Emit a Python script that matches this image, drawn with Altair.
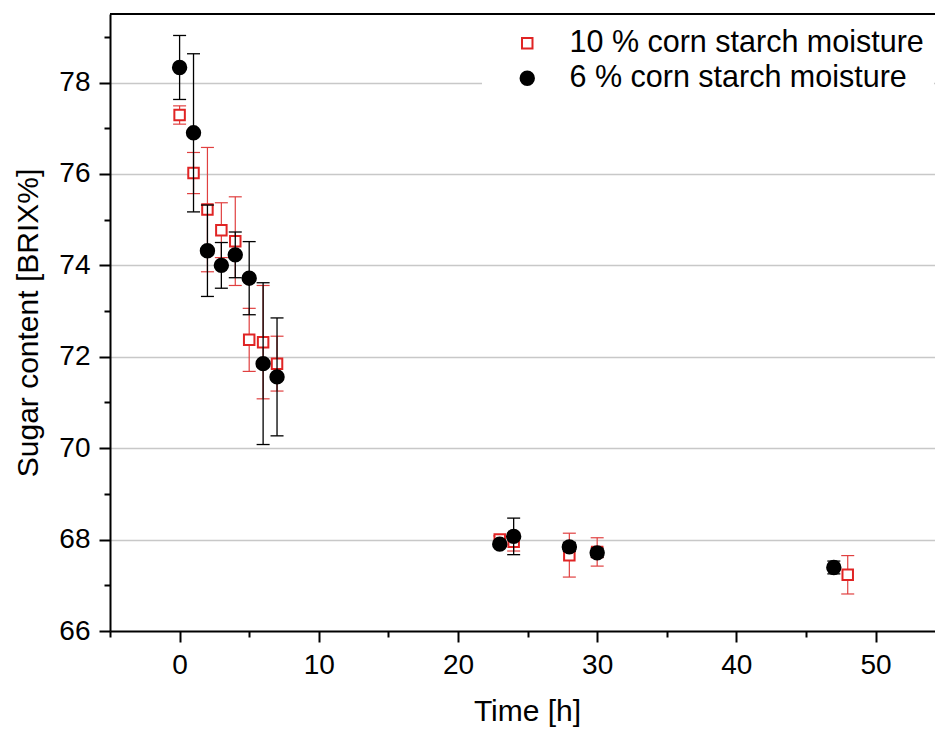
import altair as alt
import pandas as pd

# ---- data ----
series_names = ["10 % corn starch moisture", "6 % corn starch moisture"]

time_10 = [0, 1, 2, 3, 4, 5, 6, 7, 23, 24, 28, 30, 48]
sugar_10 = [77.29, 76.02, 75.22, 74.77, 74.53, 72.37, 72.32, 71.85, 68.00, 67.95, 67.66, 67.73, 67.23]
err_10 = [0.20, 0.45, 1.36, 0.60, 0.97, 0.69, 1.24, 0.60, 0.08, 0.20, 0.48, 0.31, 0.42]

time_6 = [0, 1, 2, 3, 4, 5, 6, 7, 23, 24, 28, 30, 47]
sugar_6 = [78.33, 76.90, 74.32, 74.00, 74.23, 73.72, 71.85, 71.56, 67.90, 68.07, 67.84, 67.71, 67.39]
err_6 = [0.70, 1.73, 1.00, 0.50, 0.50, 0.80, 1.77, 1.29, 0.05, 0.40, 0.10, 0.10, 0.14]

x_ticks = [-5, 0, 5, 10, 15, 20, 25, 30, 35, 40, 45, 50]
y_ticks = [66, 67, 68, 69, 70, 71, 72, 73, 74, 75, 76, 77, 78, 79]

RED = "#e02424"
RED_ERR = "#e04040"
BLACK = "#000000"
FONT = "Liberation Sans"


def frame(name, t, s, e):
    return pd.DataFrame({
        "series": name,
        "time": t,
        "sugar": s,
        "lo": [a - b for a, b in zip(s, e)],
        "hi": [a + b for a, b in zip(s, e)],
    })


df = pd.concat([
    frame(series_names[0], time_10, sugar_10, err_10),
    frame(series_names[1], time_6, sugar_6, err_6),
], ignore_index=True)

xscale = alt.Scale(domain=[-5, 54.27], nice=False, zero=False)
yscale = alt.Scale(domain=[66, 79.5], nice=False, zero=False)

x_axis = alt.Axis(
    values=x_ticks,
    labelExpr="datum.value % 10 === 0 ? datum.label : ''",
    tickSize={"condition": {"test": "datum.value % 10 === 0", "value": 11}, "value": 6},
    grid=False,
    title="Time [h]",
    titleX=417,
    titleY=89,
    titleBaseline="alphabetic",
    labelPadding=9,
)
y_axis = alt.Axis(
    values=y_ticks,
    labelExpr="datum.value % 2 === 0 ? datum.label : ''",
    tickSize={"condition": {"test": "datum.value % 2 === 0", "value": 11}, "value": 6},
    grid=True,
    gridOpacity={"condition": {"test": "datum.value % 2 === 0 && datum.value > 66", "value": 1}, "value": 0},
    title="Sugar content [BRIX%]",
    titleX=-73,
    titleY=308.5,
    titleAngle=270,
    titleBaseline="alphabetic",
    titleAlign="center",
    labelPadding=9,
)

base = alt.Chart(df)
X = alt.X("time:Q", scale=xscale, axis=x_axis)
Y = alt.Y("sugar:Q", scale=yscale, axis=y_axis)


def err_layers(name, color, width):
    sub = base.transform_filter(alt.datum.series == name)
    rule = sub.mark_rule(color=color, strokeWidth=width).encode(
        x=X, y=alt.Y("lo:Q", scale=yscale, axis=y_axis), y2="hi:Q"
    )
    cap_lo = sub.mark_tick(orient="horizontal", size=13, thickness=width, color=color, opacity=1).encode(
        x=X, y=alt.Y("lo:Q", scale=yscale, axis=y_axis)
    )
    cap_hi = sub.mark_tick(orient="horizontal", size=13, thickness=width, color=color, opacity=1).encode(
        x=X, y=alt.Y("hi:Q", scale=yscale, axis=y_axis)
    )
    return [rule, cap_lo, cap_hi]


def point_layer(name):
    sub = base.transform_filter(alt.datum.series == name)
    return sub.mark_point(filled=True, opacity=1, strokeWidth=2).encode(
        x=X,
        y=Y,
        shape=alt.Shape("series:N", title=None,
                        scale=alt.Scale(domain=series_names, range=["square", "circle"])),
        stroke=alt.Stroke("series:N", title=None,
                          scale=alt.Scale(domain=series_names, range=[RED, BLACK])),
        fill=alt.Fill("series:N", title=None,
                      scale=alt.Scale(domain=series_names, range=["white", BLACK])),
        size=alt.Size("series:N", title=None,
                      scale=alt.Scale(domain=series_names, range=[110, 180])),
    )


top_border = base.mark_rule(color=BLACK, strokeWidth=2).encode(y=alt.datum(79.5))

layers = (
    err_layers(series_names[0], RED_ERR, 1.2)
    + [point_layer(series_names[0])]
    + err_layers(series_names[1], BLACK, 1.3)
    + [point_layer(series_names[1])]
    + [top_border]
)

chart = alt.layer(*layers).properties(
    width=825,
    height=617,
    autosize=alt.AutoSizeParams(type="none"),
    padding={"left": 110, "top": 14, "right": 0, "bottom": 98},
    background="white",
).configure_view(
    stroke=None
).configure_axis(
    domainColor=BLACK,
    domainWidth=2,
    tickColor=BLACK,
    tickWidth=2,
    labelFont=FONT,
    labelFontSize=28,
    labelColor=BLACK,
    titleFont=FONT,
    titleFontSize=30,
    titleFontWeight="normal",
    titleColor=BLACK,
    gridColor="#c8c8c8",
    gridWidth=1.5,
).configure_legend(
    orient="none",
    legendX=372,
    legendY=4,
    fillColor="white",
    padding=10,
    labelFont=FONT,
    labelFontSize=30.5,
    labelColor=BLACK,
    labelLimit=0,
    rowPadding=4,
    symbolOffset=20,
    labelOffset=27,
    symbolStrokeWidth=2,
)

chart.save("out.html", embed_options={"renderer": "svg", "actions": False})
